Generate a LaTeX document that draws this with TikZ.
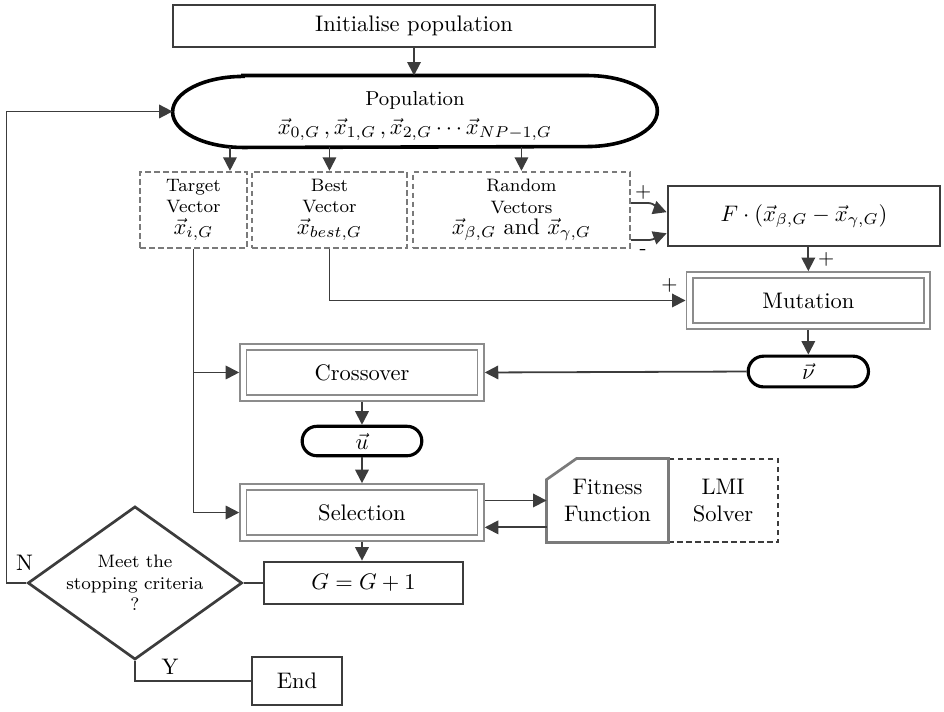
\documentclass[tikz,border=0pt]{standalone}
\usepackage{amsmath}
\usetikzlibrary{arrows.meta,shapes.geometric,shapes.misc}

\definecolor{dgray}{HTML}{3C3C3C}
\definecolor{mgray}{HTML}{7A7A7A}
\definecolor{lgray}{HTML}{8C8C8C}

\tikzset{
	arr/.style={draw=dgray, line width=0.8pt, -{Triangle[length=6pt,width=6pt]}},
	link/.style={draw=dgray, line width=0.8pt},
	box/.style={draw=dgray, line width=1.2pt, rectangle, inner sep=0pt, align=center},
	vecbox/.style={draw=mgray, line width=1pt, dash pattern=on 2.5pt off 1.5pt, inner sep=0pt, align=center, font=\footnotesize},
	opbox/.style={draw=lgray, line width=0.8pt, double=white, double distance=2pt, inner sep=0pt, outer sep=1.8pt, minimum width=3.71cm, minimum height=0.79cm},
	term/.style={draw=black, line width=1.4pt, rounded rectangle, inner sep=0pt},
	sign/.style={inner sep=0pt, font=\small},
}

\begin{document}
\begin{tikzpicture}
	\useasboundingbox (0,0) rectangle (14.75,-11.11);

	\draw (6.469,-0.406) node[box, minimum width=7.53cm, minimum height=0.656cm] (init) {Initialise population};
	\draw (6.484,-1.742) node[minimum width=7.56cm, minimum height=1.11cm, inner sep=0pt, align=center] (pop) {};
	\draw (pop.center) node[align=center, yshift=-2pt] {{\small Population}\\[1pt] $\vec{x}_{0,G}\,,\vec{x}_{1,G}\,,\vec{x}_{2,G}\cdots\vec{x}_{NP-1,G}$};
	\draw[black, line width=1.6pt] ([xshift=1.1cm]pop.north west) -- ([xshift=-1.1cm]pop.north east)
		arc[start angle=90, end angle=-90, x radius=1.1cm, y radius=0.555cm]
		-- ([xshift=1.1cm]pop.south west)
		arc[start angle=270, end angle=90, x radius=1.1cm, y radius=0.555cm] -- cycle;

	\draw (3.023,-3.281) node[vecbox, minimum width=1.67cm, minimum height=1.19cm] (tgt) {Target\\Vector\\{\normalsize$\vec{x}_{i,G}$}};
	\draw (5.148,-3.281) node[vecbox, minimum width=2.42cm, minimum height=1.19cm] (best) {Best\\Vector\\{\normalsize$\vec{x}_{best,G}$}};
	\draw (8.148,-3.281) node[vecbox, minimum width=3.39cm, minimum height=1.19cm] (rnd) {Random\\Vectors\\{\normalsize$\vec{x}_{\beta,G}$ and $\vec{x}_{\gamma,G}$}};

	\draw (12.5625,-3.375) node[box, minimum width=4.25cm, minimum height=0.94cm] (fbox) {$F\cdot(\vec{x}_{\beta,G}-\vec{x}_{\gamma,G})$};
	\draw (12.63,-4.695) node[opbox] (mut) {Mutation};
	\draw (12.63,-5.805) node[term, minimum width=1.88cm, minimum height=0.48cm] (nu) {$\vec{\nu}$};
	\draw (5.656,-5.820) node[opbox] (cross) {Crossover};
	\draw (5.656,-6.891) node[term, minimum width=1.87cm, minimum height=0.46cm] (u) {$\vec{u}$};
	\draw (5.656,-8.008) node[opbox] (sel) {Selection};

	\draw (9.492,-7.820) node[minimum width=1.89cm, minimum height=1.30cm, inner sep=0pt, align=center] (fit) {Fitness\\Function};
	\draw (11.297,-7.820) node[vecbox, draw=dgray, font=\normalsize, minimum width=1.72cm, minimum height=1.30cm] (lmi) {LMI\\Solver};
	\draw[draw=mgray, line width=1.2pt] (fit.south west) -- ([yshift=-0.33cm]fit.north west) -- ([xshift=0.47cm]fit.north west) -- (fit.north east) -- (fit.south east) -- cycle;

	\draw (5.68,-9.109) node[box, minimum width=3.11cm, minimum height=0.656cm] (gbox) {$G=G+1$};
	\draw (2.109,-9.109) node[diamond, aspect=1.4, draw=dgray, line width=1.2pt, minimum width=3.15cm, minimum height=2.25cm, inner sep=0pt, align=center, font=\footnotesize] (dia) {Meet the\\stopping criteria\\?};
	\draw (4.641,-10.641) node[box, minimum width=1.41cm, minimum height=0.75cm] (endb) {End};

	% population and the three vectors
	\draw[arr] (init.south) -- (init.south |- pop.north);
	\draw[arr] ([xshift=0.57cm]tgt.north |- pop.south) -- ([xshift=0.57cm]tgt.north);
	\draw[arr] (best.north |- pop.south) -- (best.north);
	\draw[arr] (rnd.north |- pop.south) -- (rnd.north);

	% mutation
	\draw[arr] ([yshift=0.11cm]rnd.east) -- ++(0.25,0) to[out=0, in=160] ([yshift=0.06cm]fbox.west);
	\draw[arr] ([yshift=-0.47cm]rnd.east) -- ++(0.25,0) to[out=0, in=200] ([yshift=-0.27cm]fbox.west);
	\node[sign] at (10.05,-3.0) {$+$};
	\node[sign] at (10.05,-3.94) {-};
	\draw[arr] (fbox.south -| mut.north) -- (mut.north) node[sign, midway, right=4pt] {$+$};
	\draw[arr] (best.south) |- (mut.west);
	\node[sign] at ([xshift=-0.25cm, yshift=0.23cm]mut.west) {$+$};
	\draw[arr] (mut.south) -- (nu.north);

	% crossover and selection
	\draw[arr] (nu.west) -- (cross.east);
	\draw[arr] (tgt.south) |- (sel.west);
	\draw[arr] (tgt.south |- cross.west) -- (cross.west);
	\draw[arr] (cross.south) -- (u.north);
	\draw[arr] (u.south) -- (sel.north);
	\draw[arr] (sel.east |- fit.west) -- (fit.west);
	\draw[arr] ([yshift=-0.42cm]fit.west) -- ([yshift=-0.42cm]fit.west -| sel.east);
	\draw[arr] (sel.south) -- (sel.south |- gbox.north);

	% stopping test
	\draw[link] (gbox.west) -- (dia.east);
	\draw[arr] (dia.west) -- ++(-0.31,0) |- (pop.west);
	\node at ([xshift=-0.03cm, yshift=0.31cm]dia.west) {N};
	\draw[link] (dia.south) |- (endb.west);
	\node at (2.656,-10.42) {Y};
\end{tikzpicture}
\end{document}
